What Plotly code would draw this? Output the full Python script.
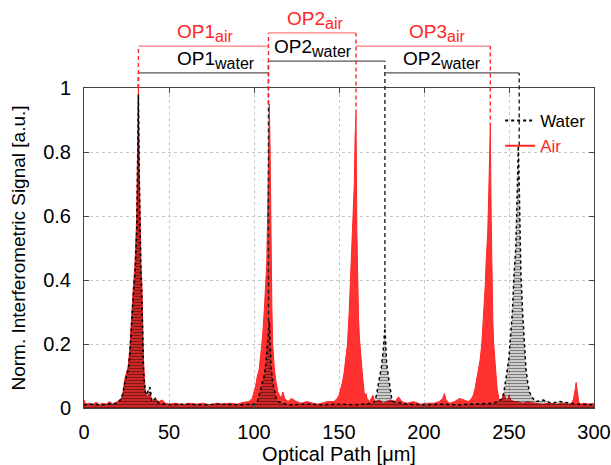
import plotly.graph_objects as go

# ---- data -----------------------------------------------------------------
air_signal = [
    (0, 0.025), (1, 0.012), (3, 0.015), (5, 0.01), (7, 0.018), (9, 0.01), (11, 0.015),
    (13, 0.012), (15, 0.02), (17, 0.012), (19, 0.018), (21, 0.025), (22, 0.03), (23, 0.05),
    (24, 0.09), (25, 0.11), (26, 0.13), (27, 0.19), (28, 0.3), (29, 0.38), (30, 0.45),
    (30.5, 0.52), (31, 0.6), (31.5, 0.8), (32, 1.0), (32.5, 0.75), (33, 0.52), (33.5, 0.45),
    (34, 0.4), (34.5, 0.2), (35, 0.15), (35.5, 0.1), (36, 0.06), (37, 0.03), (38, 0.04),
    (38.8, 0.05), (39.5, 0.03), (40, 0.02), (42, 0.03), (44, 0.02), (46, 0.025), (48, 0.015),
    (50, 0.012), (54, 0.015), (58, 0.01), (62, 0.015), (66, 0.012), (70, 0.015), (74, 0.01),
    (78, 0.015), (82, 0.012), (86, 0.015), (90, 0.012), (94, 0.018), (97, 0.02), (99, 0.03),
    (100, 0.05), (101, 0.07), (102, 0.1), (103, 0.12), (104, 0.17), (105, 0.22), (106, 0.3),
    (107, 0.4), (107.5, 0.45), (108, 0.6), (108.5, 0.8), (109, 0.95), (109.5, 0.8), (110, 0.45),
    (110.5, 0.32), (111, 0.2), (112, 0.12), (113, 0.08), (114, 0.05), (115, 0.04), (116, 0.03),
    (117, 0.05), (118, 0.03), (120, 0.02), (122, 0.03), (125, 0.02), (128, 0.015), (131, 0.02),
    (134, 0.015), (137, 0.012), (140, 0.015), (143, 0.02), (146, 0.02), (147, 0.02), (149, 0.03),
    (150, 0.04), (151, 0.06), (152, 0.08), (153, 0.11), (154, 0.15), (155, 0.2), (156, 0.3),
    (157, 0.42), (157.5, 0.5), (158, 0.55), (158.5, 0.6), (159, 0.7), (159.5, 0.85), (160, 0.92),
    (160.5, 0.55), (161, 0.35), (161.5, 0.28), (162, 0.22), (163, 0.14), (164, 0.09), (165, 0.04),
    (166, 0.045), (166.5, 0.03), (168, 0.02), (170, 0.04), (171, 0.02), (174, 0.025), (176, 0.015),
    (178, 0.02), (180, 0.025), (183, 0.02), (185, 0.035), (187, 0.02), (190, 0.015), (194, 0.02),
    (198, 0.012), (202, 0.015), (206, 0.015), (209, 0.02), (211, 0.03), (212, 0.045), (213, 0.025),
    (215, 0.015), (218, 0.02), (221, 0.03), (224, 0.025), (226, 0.02), (228, 0.03), (229, 0.04),
    (230, 0.06), (231, 0.09), (232, 0.12), (233, 0.15), (234, 0.2), (235, 0.28), (236, 0.38),
    (236.5, 0.45), (237, 0.5), (237.5, 0.55), (238, 0.65), (238.5, 0.8), (239, 0.88), (239.5, 0.6),
    (240, 0.35), (240.5, 0.27), (241, 0.2), (242, 0.12), (243, 0.06), (244, 0.03), (245, 0.02),
    (246, 0.03), (247, 0.045), (248, 0.03), (249, 0.02), (250, 0.04), (251, 0.025), (253, 0.02),
    (255, 0.02), (258, 0.015), (261, 0.02), (265, 0.015), (270, 0.012), (274, 0.015), (278, 0.012),
    (282, 0.015), (285, 0.012), (287, 0.015), (288, 0.03), (289, 0.06), (289.5, 0.08), (290, 0.06),
    (290.5, 0.03), (291, 0.02), (292, 0.012), (294, 0.015), (297, 0.012), (300, 0.015),
]

water_signal = [
    (0, 0.01), (5, 0.012), (10, 0.01), (15, 0.012), (20, 0.015), (22, 0.03), (23, 0.05),
    (24, 0.08), (25, 0.1), (26, 0.12), (27, 0.17), (28, 0.27), (29, 0.35), (30, 0.42),
    (30.5, 0.48), (31, 0.55), (31.5, 0.75), (32, 0.98), (32.5, 0.72), (33, 0.5), (33.5, 0.42),
    (34, 0.35), (34.5, 0.18), (35, 0.12), (35.5, 0.08), (36, 0.05), (37, 0.04), (38, 0.06),
    (38.8, 0.065), (39.5, 0.03), (40, 0.02), (42, 0.03), (44, 0.015), (50, 0.01), (60, 0.012),
    (70, 0.01), (80, 0.012), (90, 0.01), (100, 0.012), (102, 0.02), (103, 0.04), (104, 0.06),
    (105, 0.08), (106, 0.1), (107, 0.14), (108, 0.2), (108.5, 0.25), (109, 0.27), (109.5, 0.2),
    (110, 0.13), (111, 0.08), (112, 0.05), (113, 0.03), (114, 0.02), (120, 0.01), (130, 0.012),
    (140, 0.01), (150, 0.012), (160, 0.01), (170, 0.015), (171, 0.02), (172, 0.04), (173, 0.07),
    (174, 0.1), (175, 0.13), (176, 0.18), (176.5, 0.22), (177, 0.25), (177.5, 0.2), (178, 0.14),
    (179, 0.1), (180, 0.06), (181, 0.03), (182, 0.02), (190, 0.012), (200, 0.01), (210, 0.012),
    (220, 0.01), (230, 0.012), (240, 0.015), (244, 0.02), (246, 0.03), (247, 0.05), (248, 0.08),
    (249, 0.12), (250, 0.16), (251, 0.22), (252, 0.3), (253, 0.42), (253.5, 0.47), (254, 0.5),
    (254.5, 0.6), (255, 0.75), (255.5, 0.82), (256, 0.7), (256.5, 0.55), (257, 0.42), (258, 0.3),
    (259, 0.2), (260, 0.12), (261, 0.08), (262, 0.05), (263, 0.04), (264, 0.03), (266, 0.02),
    (270, 0.025), (275, 0.015), (280, 0.02), (290, 0.012), (300, 0.01),
]

air_x = [p[0] for p in air_signal]
air_y = [p[1] for p in air_signal]
water_x = [p[0] for p in water_signal]
water_y = [p[1] for p in water_signal]

# peak positions joined by the optical-path brackets
air_peak_x = [32, 108.5, 160, 239]
air_peak_y = [1.0, 0.95, 0.92, 0.88]
water_peak_x = [32, 108.5, 177, 256]
water_peak_y = [1.0, 0.27, 0.25, 0.82]

# bracket heights (paper units, 1 = top of axes) and labels
air_levels = [1.131, 1.172, 1.131]
water_levels = [1.047, 1.084, 1.047]
SUB = "<sub><span style='font-size:16px'>{}</span></sub>"
air_labels = ["OP1" + SUB.format("air"), "OP2" + SUB.format("air"), "OP3" + SUB.format("air")]
water_labels = ["OP1" + SUB.format("water"), "OP2" + SUB.format("water"), "OP2" + SUB.format("water")]
air_label_x = [71, 136, 207.5]
water_label_x = [77.5, 134.5, 210.5]

x_ticks = [0, 50, 100, 150, 200, 250, 300]
y_ticks = [0, 0.2, 0.4, 0.6, 0.8, 1]
y_tick_text = ["0", "0.2", "0.4", "0.6", "0.8", "1"]

# ---- styling ---------------------------------------------------------------
RED = "#ff2626"
LIGHT_RED = "#ff7a7a"
FONT = "Arial, Liberation Sans, sans-serif"

fig = go.Figure()

fig.add_trace(go.Scatter(
    x=air_x, y=air_y, mode="lines", fill="tozeroy",
    line=dict(color=RED, width=1), fillcolor="rgba(255,38,38,0.95)",
    showlegend=False, hoverinfo="skip"))

fig.add_trace(go.Scatter(
    x=water_x, y=water_y, mode="lines", fill="tozeroy",
    line=dict(color="black", width=1.5, dash="dot"),
    fillcolor="rgba(0,0,0,0)",
    fillpattern=dict(shape="-", fgcolor="black", bgcolor="rgba(0,0,0,0)", size=3, solidity=0.6),
    showlegend=False, hoverinfo="skip"))

# legend entries
fig.add_trace(go.Scatter(x=[None], y=[None], mode="lines", name="Water",
                         line=dict(color="black", width=2, dash="dot")))
fig.add_trace(go.Scatter(x=[None], y=[None], mode="lines",
                         name="<span style='color:#ff2626'>Air</span>",
                         line=dict(color=RED, width=2)))

shapes = []
annotations = []


def add_brackets(px, py, levels, labels, label_x, hcolor, vcolor, tcolor, ylab_off):
    n = len(px)
    for i in range(n):
        tops = []
        if i > 0:
            tops.append(levels[i - 1])
        if i < n - 1:
            tops.append(levels[i])
        shapes.append(dict(type="line", xref="x", yref="paper",
                           x0=px[i], x1=px[i], y0=py[i], y1=max(tops),
                           line=dict(color=vcolor, width=1.4, dash="4px,3px")))
    for i in range(n - 1):
        shapes.append(dict(type="line", xref="x", yref="paper",
                           x0=px[i], x1=px[i + 1], y0=levels[i], y1=levels[i],
                           line=dict(color=hcolor, width=1.2)))
        annotations.append(dict(xref="x", yref="paper", x=label_x[i], y=levels[i] + ylab_off,
                                text=labels[i], showarrow=False, yanchor="bottom",
                                font=dict(family=FONT, size=19, color=tcolor)))


add_brackets(water_peak_x, water_peak_y, water_levels, water_labels, water_label_x,
             "#555555", "#222222", "black", -0.004)
add_brackets(air_peak_x, air_peak_y, air_levels, air_labels, air_label_x,
             LIGHT_RED, RED, RED, -0.004)

axis_common = dict(
    showline=True, linecolor="#444444", linewidth=1, mirror="ticks",
    ticks="inside", ticklen=5, tickcolor="#444444",
    showgrid=True, gridcolor="#c8c8c8", griddash="dot", gridwidth=1,
    zeroline=False, automargin=False,
    tickfont=dict(family=FONT, size=20, color="black"),
)

fig.update_xaxes(range=[0, 300], tickvals=x_ticks, ticklabelstandoff=6,
                 title=dict(text="Optical Path [μm]", font=dict(family=FONT, size=20, color="black"),
                            standoff=8),
                 **axis_common)
fig.update_yaxes(range=[0, 1], tickvals=y_ticks, ticktext=y_tick_text, ticklabelstandoff=8,
                 title=dict(text="Norm. Interferometric Signal [a.u.]",
                            font=dict(family=FONT, size=19, color="black"), standoff=12),
                 **axis_common)

fig.update_layout(
    width=611, height=465,
    margin=dict(l=84, r=17, t=88, b=57, autoexpand=False),
    paper_bgcolor="white", plot_bgcolor="white",
    shapes=shapes, annotations=annotations,
    legend=dict(x=0.816, y=0.953, xanchor="left", yanchor="top",
                bgcolor="rgba(0,0,0,0)", font=dict(family=FONT, size=17, color="black"),
                itemwidth=30, tracegroupgap=0),
    showlegend=True,
)

fig.write_html("out.html", config={"displayModeBar": False},
               post_script="document.body.style.margin='0';document.body.style.overflow='hidden';")
